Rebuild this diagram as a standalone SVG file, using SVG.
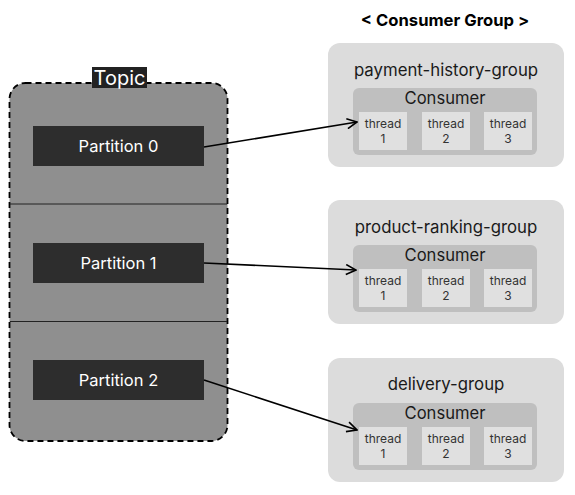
<svg xmlns="http://www.w3.org/2000/svg" width="575" height="495" viewBox="0 0 575 495">
<style>
text{font-family:Inter,"Liberation Sans",sans-serif;text-anchor:middle}
.part rect{fill:#2d2d2d}
.part text{fill:#ffffff;font-size:16.5px}
.grp{fill:#dcdcdc}
.gt{fill:#1a1a1a;font-size:16.8px}
.cons{fill:#bfbfbf}
.ct{fill:#1a1a1a;font-size:16.6px}
.th{fill:#e0e0e0}
.tt{fill:#333;font-size:12px}
.conn{stroke:#000;stroke-width:1.6;fill:none;marker-end:url(#arr)}
</style>
<defs>
<marker id="arr" viewBox="0 0 12 12" refX="11" refY="6" markerWidth="12" markerHeight="12" markerUnits="userSpaceOnUse" orient="auto">
<path d="M1,1 L11,6 L1,11" fill="none" stroke="#000" stroke-width="1.6"/>
</marker>
<g id="threads">
<rect class="th" x="359" y="112" width="48" height="38"/>
<text class="tt" x="383" y="128">thread</text><text class="tt" x="383" y="143">1</text>
<rect class="th" x="422" y="112" width="48" height="38"/>
<text class="tt" x="446" y="128">thread</text><text class="tt" x="446" y="143">2</text>
<rect class="th" x="484" y="112" width="48" height="38"/>
<text class="tt" x="508" y="128">thread</text><text class="tt" x="508" y="143">3</text>
</g>
</defs>
<g id="topic">
<rect x="9.5" y="83" width="218" height="358" rx="16" fill="#8f8f8f" stroke="#000" stroke-width="1.8" stroke-dasharray="6,4"/>
<line x1="10" y1="204" x2="227" y2="204" stroke="#222" stroke-width="1"/>
<line x1="10" y1="321.5" x2="227" y2="321.5" stroke="#222" stroke-width="1"/>
<rect x="92" y="67" width="55" height="21" fill="#222"/>
<text x="119.5" y="84.5" fill="#fff" font-size="20">Topic</text>
</g>
<g id="partition0" class="part"><rect x="33" y="126" width="171" height="40"/><text x="118.5" y="152">Partition 0</text></g>
<g id="partition1" class="part"><rect x="33" y="243" width="171" height="40"/><text x="118.5" y="269">Partition 1</text></g>
<g id="partition2" class="part"><rect x="33" y="360" width="171" height="40"/><text x="118.5" y="386">Partition 2</text></g>
<text x="445" y="26" font-size="16.6" font-weight="bold" fill="#000">&lt; Consumer Group &gt;</text>
<g id="group1">
<rect class="grp" x="328" y="43" width="236" height="124" rx="12"/>
<text class="gt" x="446" y="76">payment-history-group</text>
<rect class="cons" x="353" y="88" width="184" height="67" rx="6"/>
<text class="ct" x="445" y="104">Consumer</text>
<use href="#threads"/>
</g>
<g id="group2">
<rect class="grp" x="328" y="200" width="236" height="124" rx="12"/>
<text class="gt" x="446" y="233">product-ranking-group</text>
<rect class="cons" x="353" y="245" width="184" height="67" rx="6"/>
<text class="ct" x="445" y="261">Consumer</text>
<use href="#threads" y="157"/>
</g>
<g id="group3">
<rect class="grp" x="328" y="358" width="236" height="124" rx="12"/>
<text class="gt" x="446" y="390">delivery-group</text>
<rect class="cons" x="353" y="403" width="184" height="67" rx="6"/>
<text class="ct" x="445" y="419">Consumer</text>
<use href="#threads" y="315"/>
</g>
<g id="connectors">
<line class="conn" x1="204" y1="147" x2="357" y2="122"/>
<line class="conn" x1="204" y1="263" x2="356" y2="270"/>
<line class="conn" x1="204" y1="380" x2="357" y2="430"/>
</g>
</svg>
